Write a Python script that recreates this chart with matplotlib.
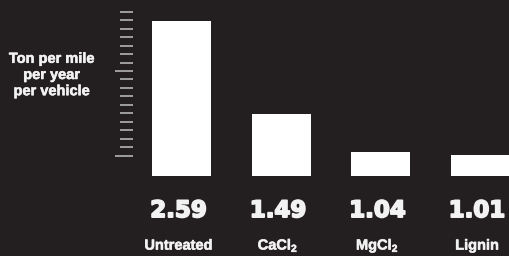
import matplotlib.pyplot as plt
import matplotlib.patheffects as pe

categories = ['Untreated', 'CaCl$_2$', 'MgCl$_2$', 'Lignin']
values = [2.59, 1.49, 1.04, 1.01]
value_labels = ['2.59', '1.49', '1.04', '1.01']
tick_values = [round(1.0 + 0.1 * i, 1) for i in range(18)]  # 1.0 ... 2.7
major_ticks = [1.0, 2.0]

bg = '#231f20'
fg = '#f2f2f2'
base = 0.764  # bars start below the scale

plt.rcParams['mathtext.fontset'] = 'custom'
plt.rcParams['mathtext.rm'] = 'Liberation Sans:bold'
plt.rcParams['mathtext.default'] = 'rm'

fig = plt.figure(figsize=(5.09, 2.56), dpi=100, facecolor=bg)
ax = fig.add_axes([0, 0, 1, 1])
ax.set_facecolor(bg)

x = list(range(len(values)))
ax.bar(x, [v - base for v in values], bottom=base, width=0.593,
       color='white', edgecolor='none')

ax.set_xlim(-1.824, 3.291)
ax.set_ylim(-0.184, 2.838)
ax.axis('off')

# tick scale on the left
ytrans = ax.get_yaxis_transform()
for t in tick_values:
    x0 = 0.226 if t in major_ticks else 0.236
    ax.plot([x0, 0.2607], [t, t], color='#b4b4b4', lw=1.2,
            transform=ytrans, solid_capstyle='butt')

heavy = [pe.withStroke(linewidth=1.3, foreground=fg)]
semi = [pe.withStroke(linewidth=0.4, foreground=fg)]

# value and category labels
xtrans = ax.get_xaxis_transform()
for xi, vl, cat in zip(x, value_labels, categories):
    ax.text(xi - 0.03, 0.152, vl, transform=xtrans, ha='center', va='baseline',
            color=fg, fontsize=16.5, fontweight='bold', family='DejaVu Sans',
            path_effects=heavy)
    ax.text(xi - 0.03, 0.025, cat, transform=xtrans, ha='center', va='baseline',
            color=fg, fontsize=10.5, fontweight='bold', family='Liberation Sans',
            path_effects=semi)

fig.text(0.102, 0.707, 'Ton per mile\nper year\nper vehicle', ha='center',
         va='center', multialignment='center', color=fg, fontsize=10.5,
         fontweight='bold', family='Liberation Sans', linespacing=1.2,
         path_effects=semi)

fig.savefig('out.png', dpi=100, facecolor=bg)
